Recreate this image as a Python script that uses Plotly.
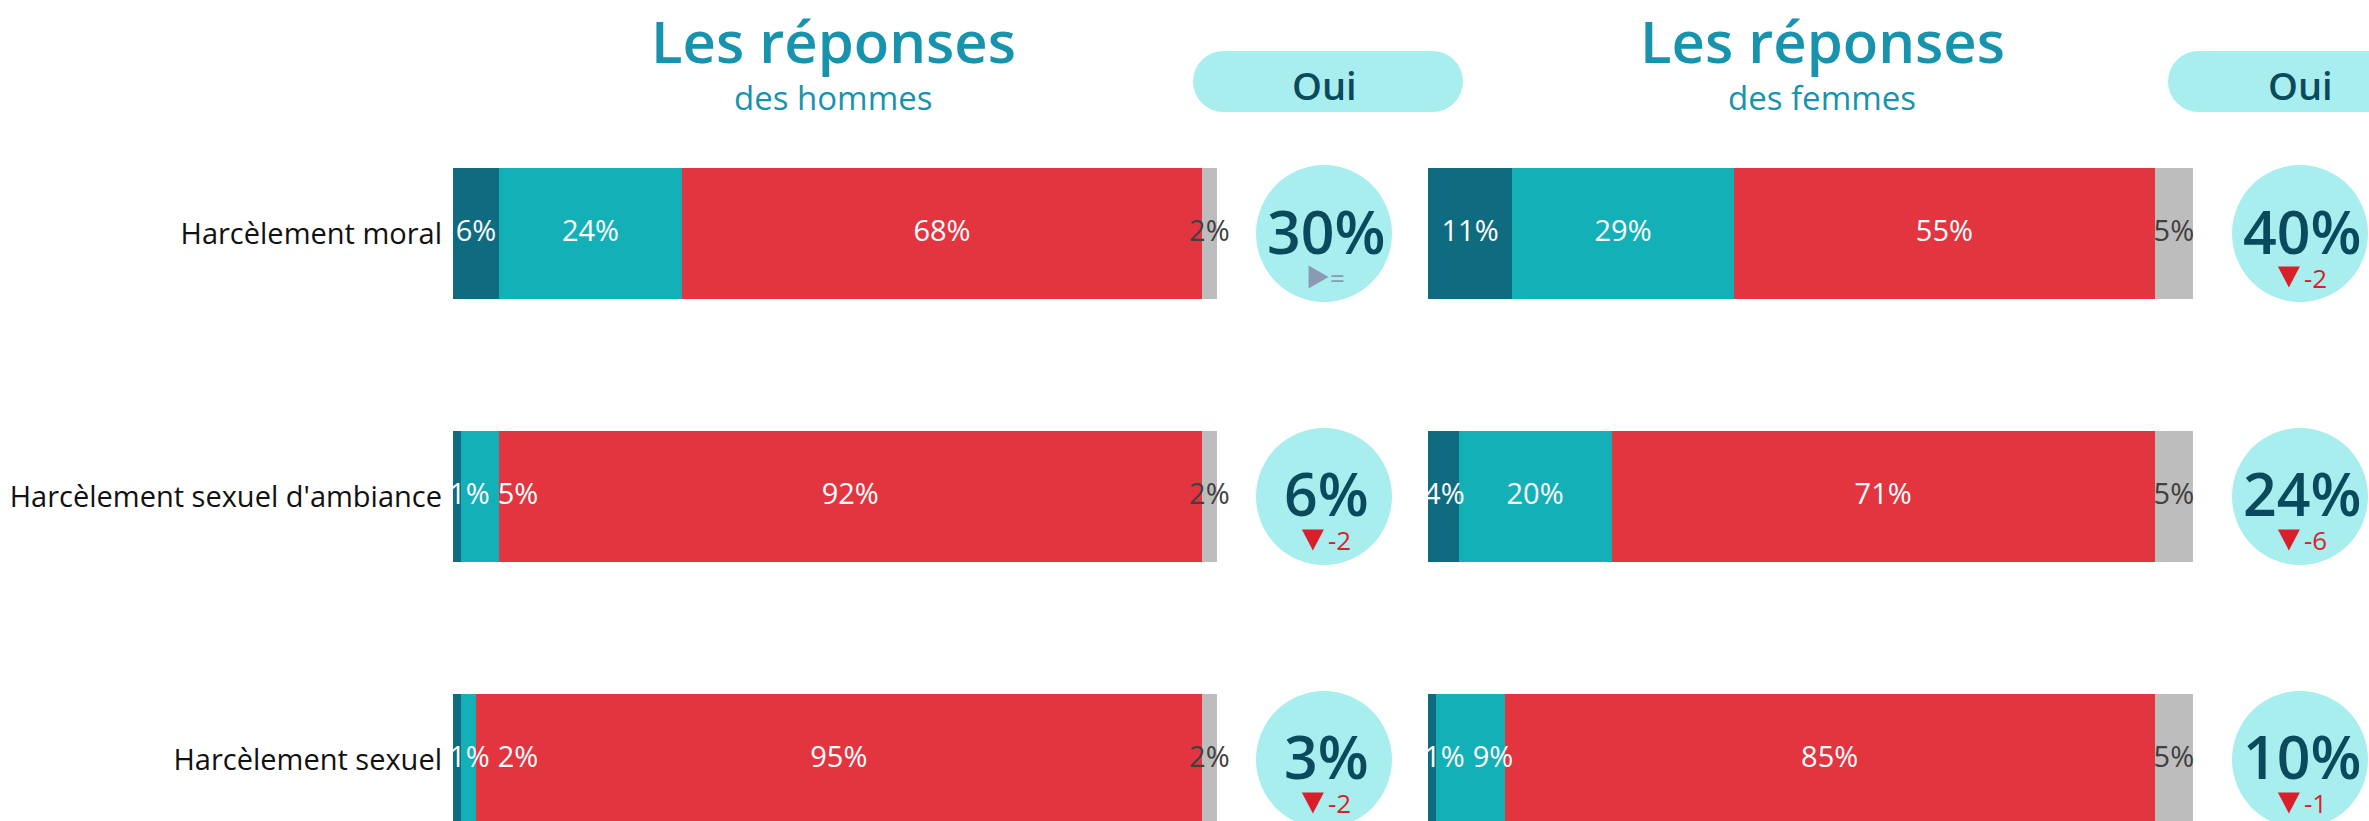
import plotly.graph_objects as go

# Canvas
W, H = 2369, 821

# ---- Data -------------------------------------------------------------
categories = ["Harcèlement moral", "Harcèlement sexuel d'ambiance", "Harcèlement sexuel"]
series_names = ["Oui, plusieurs fois", "Oui, une fois", "Non", "Ne se prononce pas"]

men_often = [6, 1, 1]
men_once = [24, 5, 2]
men_no = [68, 92, 95]
men_nsp = [2, 2, 2]

women_often = [11, 4, 1]
women_once = [29, 20, 9]
women_no = [55, 71, 85]
women_nsp = [5, 5, 5]

# change in "Oui" versus the previous wave ("=" means unchanged)
men_delta = ["=", "-2", "-2"]
women_delta = ["-2", "-6", "-1"]

panel_titles = ["Les réponses", "Les réponses"]
panel_subtitles = ["des hommes", "des femmes"]
pill_label = "Oui"

# ---- Styling ----------------------------------------------------------
FONT = "Open Sans"
seg_colors = ["#0f6b80", "#14b0b8", "#e23540", "#bdbdbd"]
label_colors = ["#ffffff", "#ffffff", "#ffffff", "#404040"]
title_color = "#1793ad"
value_color = "#0b4a5c"
bubble_color = "#a8eeee"
down_color = "#d91f2a"
flat_color = "#8a9ab3"
LABEL_SIZE = 29
DELTA_SIZE = 26
DELTA_DROP = 44  # px below the row centre

# panel geometry (pixels)
panels = [
    dict(axis="x", x0=453, x1=1217, circle_x=1324, title_x=833,
         series=[men_often, men_once, men_no, men_nsp], delta=men_delta),
    dict(axis="x2", x0=1428, x1=2193, circle_x=2300, title_x=1822,
         series=[women_often, women_once, women_no, women_nsp], delta=women_delta),
]

fig = go.Figure()


def text_width_px(txt, size):
    w = 0.0
    for c in txt:
        if c.isdigit() or c == "=":
            w += 0.572
        elif c == "%":
            w += 0.83
        elif c == "-":
            w += 0.322
        else:
            w += 0.55
    return size * w


def place_labels(row_vals, px_per_unit):
    """Centre each label on its segment, nudging right to avoid overlaps."""
    xs, texts = [], []
    start = 0.0
    prev_right = None
    for k, v in enumerate(row_vals):
        txt = f"{v}%"
        w = text_width_px(txt, LABEL_SIZE) / px_per_unit
        c = start + v / 2
        if k < 3:
            if prev_right is None:
                c = max(c, w / 2 - 4 / px_per_unit)
            else:
                c = max(c, prev_right + 8 / px_per_unit + w / 2)
            prev_right = c + w / 2
        xs.append(c)
        texts.append(txt)
        start += v
    return xs, texts


for p in panels:
    # stacked bars
    for name, vals, col in zip(series_names, p["series"], seg_colors):
        fig.add_trace(go.Bar(
            y=categories, x=vals, orientation="h", name=name,
            xaxis=p["axis"], yaxis="y", width=0.498,
            marker=dict(color=col, line=dict(width=0)),
            showlegend=False, hoverinfo="x+y+name",
        ))
    # value labels on the segments
    ppu = (p["x1"] - p["x0"]) / 100.0
    lx, ly, lt, lc = [], [], [], []
    for i, cat in enumerate(categories):
        row = [s[i] for s in p["series"]]
        xs, texts = place_labels(row, ppu)
        lx += xs
        lt += texts
        ly += [cat] * len(xs)
        lc += label_colors
    fig.add_trace(go.Scatter(
        x=lx, y=ly, text=lt, mode="text", xaxis=p["axis"], yaxis="y",
        textposition="middle center", cliponaxis=False, showlegend=False,
        textfont=dict(family=FONT, size=LABEL_SIZE, color=lc), hoverinfo="skip",
    ))

shapes = []
annotations = []


def px_x(v):
    return v / W


def px_y(v):
    return 1 - v / H


for j, p in enumerate(panels):
    cx = p["circle_x"]
    # headline
    annotations.append(dict(
        text=panel_titles[j], x=px_x(p["title_x"]), y=1, xref="paper", yref="paper",
        showarrow=False, xanchor="center", yanchor="top", borderpad=0,
        font=dict(family=FONT, size=58, color=title_color, weight=600),
    ))
    annotations.append(dict(
        text=panel_subtitles[j], x=px_x(p["title_x"]), y=px_y(97), xref="paper", yref="paper",
        showarrow=False, xanchor="center", yanchor="middle", borderpad=0,
        font=dict(family=FONT, size=33, color=title_color),
    ))
    # "Oui" pill above the bubbles
    pl, pr, pt, pb = cx - 131, cx + 139, 51, 112
    if j == 1:
        pl, pr = 2168, 2440
    r = (pb - pt) / 2
    for (a, b) in ((pl, pl + 2 * r), (pr - 2 * r, pr)):
        shapes.append(dict(type="circle", xref="paper", yref="paper",
                           x0=px_x(a), x1=px_x(b), y0=px_y(pb), y1=px_y(pt),
                           fillcolor=bubble_color, line=dict(width=0), layer="below"))
    shapes.append(dict(type="rect", xref="paper", yref="paper",
                       x0=px_x(pl + r), x1=px_x(pr - r), y0=px_y(pb), y1=px_y(pt),
                       fillcolor=bubble_color, line=dict(width=0), layer="below"))
    annotations.append(dict(
        text=pill_label, x=px_x(cx), y=px_y(85), xref="paper", yref="paper",
        showarrow=False, xanchor="center", yanchor="middle",
        font=dict(family=FONT, size=38, color=value_color, weight=600),
    ))
    # bubbles with the total "Oui" share and its change
    often, once = p["series"][0], p["series"][1]
    for i, cat in enumerate(categories):
        shapes.append(dict(type="circle", xref="paper", yref="y",
                           xsizemode="pixel", ysizemode="pixel",
                           xanchor=px_x(cx), yanchor=i,
                           x0=-68, x1=68, y0=-68.5, y1=68.5,
                           fillcolor=bubble_color, line=dict(width=0), layer="below"))
        oui = often[i] + once[i]
        annotations.append(dict(
            text=f"{oui}%", x=px_x(cx + 2), y=cat, xref="paper", yref="y",
            showarrow=False, xanchor="center", yanchor="middle", yshift=3, borderpad=0,
            font=dict(family=FONT, size=59, color=value_color, weight=600),
        ))
        # change indicator: triangle + figure, centred under the value
        d = p["delta"][i]
        if d == "=":
            col = flat_color
            tri_w, gap = 20, 0
        else:
            col = down_color
            tri_w, gap = 22, 3
        total = tri_w + gap + text_width_px(d, DELTA_SIZE)
        left = 2 - total / 2
        top, bot = -(DELTA_DROP - 11), -(DELTA_DROP + 10)
        if d == "=":
            path = (f"M {left},{top + 1} L {left},{bot - 1} "
                    f"L {left + tri_w},{(top + bot) / 2} Z")
        else:
            path = f"M {left},{top} L {left + tri_w},{top} L {left + tri_w / 2},{bot} Z"
        shapes.append(dict(type="path", path=path, xref="paper", yref="y",
                           xsizemode="pixel", ysizemode="pixel",
                           xanchor=px_x(cx), yanchor=i,
                           fillcolor=col, line=dict(width=0)))
        annotations.append(dict(
            text=d, x=px_x(cx + left + tri_w + gap), y=cat, xref="paper", yref="y",
            showarrow=False, xanchor="left", yanchor="middle", yshift=-DELTA_DROP,
            borderpad=0, font=dict(family=FONT, size=DELTA_SIZE, color=col),
        ))

fig.update_layout(
    width=W, height=H,
    margin=dict(l=0, r=0, t=0, b=0),
    paper_bgcolor="white", plot_bgcolor="white",
    barmode="stack", showlegend=False,
    xaxis=dict(domain=[453 / W, 1217 / W], range=[0, 100], visible=False, fixedrange=True),
    xaxis2=dict(domain=[1428 / W, 2193 / W], range=[0, 100], visible=False,
                anchor="y", fixedrange=True),
    yaxis=dict(type="category", categoryorder="array", categoryarray=categories,
               range=[2.234, -0.888], showgrid=False, zeroline=False, showline=False,
               ticks="", ticklabelstandoff=10, anchor="x",
               tickfont=dict(family=FONT, size=29, color="#111111"), fixedrange=True),
    shapes=shapes,
    annotations=annotations,
)

fig.write_html("out.html")
